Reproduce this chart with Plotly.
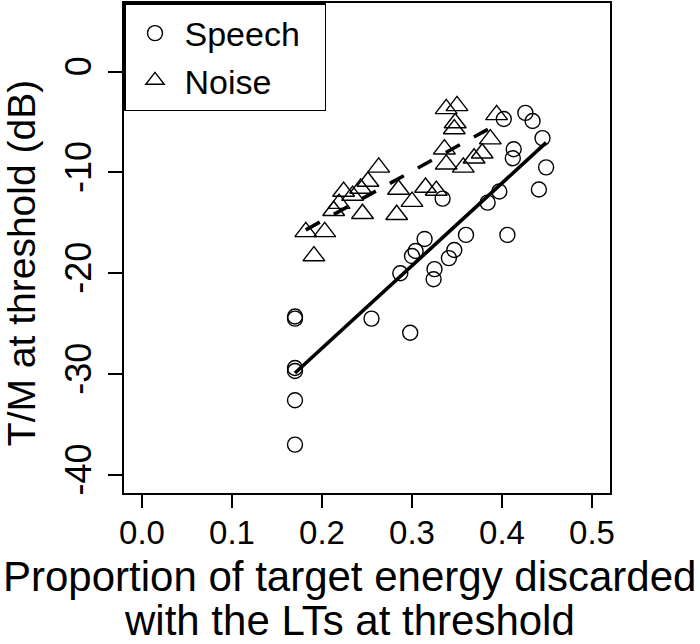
import plotly.graph_objects as go

# ---- data ----
speech_x = [0.170, 0.170, 0.170, 0.170, 0.170, 0.170, 0.255, 0.298, 0.287, 0.300,
            0.304, 0.314, 0.324, 0.325, 0.341, 0.347, 0.360, 0.406, 0.384, 0.397,
            0.441, 0.334, 0.402, 0.426, 0.434, 0.445, 0.413, 0.412, 0.449]
speech_y = [-24.3, -24.5, -29.4, -29.7, -32.6, -37.0, -24.5, -25.9, -20.0, -18.3,
            -17.8, -16.6, -20.6, -19.6, -18.5, -17.7, -16.2, -16.2, -13.0, -11.9,
            -11.7, -12.6, -4.7, -4.1, -4.9, -6.6, -7.7, -8.6, -9.5]

noise_x = [0.182, 0.203, 0.191, 0.213, 0.219, 0.224, 0.234, 0.243, 0.251, 0.263,
           0.245, 0.283, 0.285, 0.300, 0.315, 0.327, 0.338, 0.350, 0.348, 0.347,
           0.336, 0.338, 0.357, 0.369, 0.378, 0.387, 0.394]
noise_y = [-15.9, -15.9, -18.3, -13.8, -13.1, -11.9, -12.3, -11.6, -10.9, -9.5,
           -14.1, -14.2, -11.7, -12.9, -11.5, -11.8, -3.7, -3.4, -5.1, -5.7,
           -7.7, -9.2, -9.5, -8.6, -8.1, -6.7, -4.3]

speech_fit_x = [0.170, 0.449]
speech_fit_y = [-29.9, -7.05]
noise_fit_x = [0.182, 0.394]
noise_fit_y = [-15.7, -5.25]

x_tickvals = [0.0, 0.1, 0.2, 0.3, 0.4, 0.5]
x_ticktext = ["0.0", "0.1", "0.2", "0.3", "0.4", "0.5"]
y_tickvals = [-40, -30, -20, -10, 0]
y_ticktext = ["-40", "-30", "-20", "-10", "0"]

FONT = "Liberation Sans, Arial, Helvetica, sans-serif"
NBSP = "\u00a0"

fig = go.Figure()
fig.add_trace(go.Scatter(
    x=speech_x, y=speech_y, mode="markers", name="Speech" + NBSP * 2,
    marker=dict(symbol="circle-open", size=15, color="black", line=dict(width=1.4, color="black")),
))
fig.add_trace(go.Scatter(
    x=noise_x, y=noise_y, mode="markers", name="Noise",
    marker=dict(symbol="triangle-up-open", size=19, color="black", line=dict(width=1.4, color="black")),
))
fig.add_trace(go.Scatter(
    x=speech_fit_x, y=speech_fit_y, mode="lines", showlegend=False,
    line=dict(color="black", width=3.6),
))
fig.add_trace(go.Scatter(
    x=noise_fit_x, y=noise_fit_y, mode="lines", showlegend=False,
    line=dict(color="black", width=3.6, dash="16px,16px"),
))

axis_common = dict(
    showline=True, mirror=True, linecolor="black", linewidth=1.5,
    ticks="outside", tickcolor="black", tickwidth=1.5,
    showgrid=False, zeroline=False, automargin=False,
)

fig.update_layout(
    width=700, height=644,
    margin=dict(l=124, r=90, t=3, b=151),
    paper_bgcolor="white", plot_bgcolor="white",
    font=dict(family=FONT, color="black"),
    xaxis=dict(range=[-0.02, 0.52], tickvals=x_tickvals, ticktext=x_ticktext,
               ticklen=13, ticklabelstandoff=-3,
               tickfont=dict(family=FONT, size=33, color="black"),
               **axis_common),
    yaxis=dict(range=[-41.8, 6.8], tickvals=y_tickvals, ticktext=y_ticktext,
               ticklen=14, tickangle=-90, ticklabelstandoff=3,
               tickfont=dict(family=FONT, size=36, color="black"),
               **axis_common),
    legend=dict(x=0, y=1, xanchor="left", yanchor="top",
                bordercolor="black", borderwidth=1.5, bgcolor="white",
                font=dict(family=FONT, size=34, color="black"),
                itemwidth=49, tracegroupgap=0),
    annotations=[
        dict(text="Proportion of target energy discarded", xref="paper", yref="paper",
             x=0.465, y=-0.1694, xanchor="center", yanchor="middle", showarrow=False,
             font=dict(family=FONT, size=42, color="black")),
        dict(text="with the LTs at threshold", xref="paper", yref="paper",
             x=0.465, y=-0.2600, xanchor="center", yanchor="middle", showarrow=False,
             font=dict(family=FONT, size=42, color="black")),
        dict(text="T/M at threshold (dB)", xref="paper", yref="paper",
             x=-0.212, y=0.469, xanchor="center", yanchor="middle", showarrow=False,
             textangle=-90, font=dict(family=FONT, size=39, color="black")),
    ],
)

fig.write_html("out.html", config={"displayModeBar": False},
               post_script="document.body.style.margin='0';")
